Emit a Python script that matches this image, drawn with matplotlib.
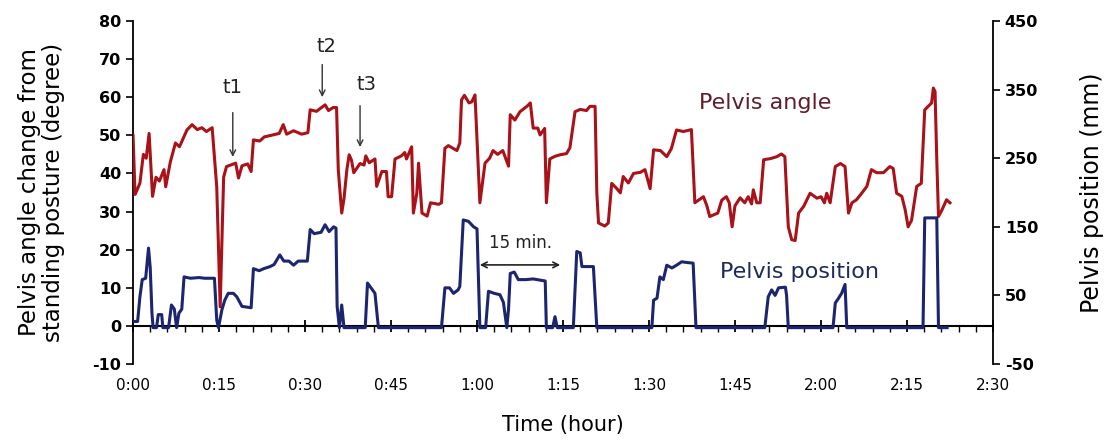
from matplotlib import pyplot as plt
from matplotlib.ticker import MultipleLocator, FuncFormatter
import numpy as np

plt.rcParams['axes.unicode_minus'] = False

# time in minutes, pelvis angle in degrees (left axis)
angle_t = [0, 0.35, 0.8, 1.2, 1.8, 2.3, 2.8, 3.4, 4.0, 4.6, 5.4, 5.7, 6.5, 7.4, 8.1, 9.4,
           10.3, 11.2, 12.0, 12.8, 13.8, 14.6, 15.2, 15.8, 16.3, 17.9, 18.4, 19.0, 20.0,
           20.6, 21.0, 22.1, 22.9, 24.1, 25.5, 26.2, 26.8, 28.0, 29.4, 30.5, 30.9, 32.0,
           33.5, 34.1, 34.9, 35.5, 35.8, 36.4, 36.8, 37.3, 37.7, 38.1, 38.5, 39.6, 40.3,
           40.6, 41.2, 42.2, 42.5, 43.4, 44.2, 44.5, 45.1, 45.7, 46.8, 47.4, 47.7, 48.6,
           48.9, 49.5, 49.8, 50.4, 51.3, 51.9, 53.3, 53.8, 54.4, 55.0, 56.5, 57.0, 57.3,
           57.8, 58.6, 59.1, 59.65, 60.5, 61.4, 62.2, 62.8, 63.6, 64.5, 65.5, 65.8, 66.6,
           67.5, 68.7, 69.3, 69.8, 70.6, 71.0, 71.8, 72.1, 72.7, 73.6, 74.5, 75.6, 76.2,
           77.1, 78.0, 79.1, 79.7, 80.6, 80.9, 81.2, 82.3, 82.9, 83.5, 84.4, 85.0, 85.5,
           86.4, 87.3, 88.5, 89.3, 90.2, 90.8, 92.0, 93.1, 93.9, 94.8, 96.0, 97.4, 98.0,
           99.5, 100.1, 100.6, 102.0, 102.7, 103.5, 104.0, 104.5, 105.0, 105.9, 106.7,
           107.3, 107.9, 108.2, 108.8, 109.4, 110.0, 111.2, 112.3, 113.1, 113.7, 114.3,
           114.9, 115.5, 116.1, 117.0, 118.1, 119.3, 120.0, 120.6, 121.0, 121.6, 122.5,
           123.4, 124.2, 124.8, 125.4, 126.2, 127.1, 128.0, 128.8, 129.7, 130.9, 132.0,
           132.6, 133.2, 134.1, 134.7, 135.2, 135.8, 136.7, 137.5, 138.1, 138.7, 139.3,
           139.6, 139.9, 140.2, 140.5, 141.1, 141.9, 142.5]
angle = [50, 34.5, 36, 37.5, 45, 44, 50.5, 34, 39, 38, 41, 36.5, 43, 48, 47, 51.4,
         52.8, 51.5, 52, 51, 52, 36.5, 5, 39, 41.8, 42.7, 38.8, 42, 42.5,
         40.5, 48.8, 48.5, 49.6, 50, 50.5, 52.8, 50.3, 51.2, 50.3, 50.7, 56.7, 56.3,
         58, 56.5, 57.3, 57.3, 41, 29.6, 33.4, 41, 44.9, 43.5, 40.2, 42.6, 42.2,
         44.6, 42.8, 43.8, 36.6, 40.5, 40.5, 33.9, 33.9, 43.8, 44.6, 45.5, 43.8, 47,
         29.6, 34.8, 42.7, 29.6, 28.8, 32.3, 31.9, 32.3, 46.6, 47.3, 46, 48, 59.3,
         60.5, 58.5, 58.8, 60.6, 32.3, 42.7, 44.0, 46, 45, 46, 41.9, 55.4, 54,
         56.2, 57.6, 58.5, 51.9, 51.9, 50.1, 51.8, 32.3, 43.8, 44.5, 44.9, 45.2, 46.7,
         56.2, 56.8, 56.5, 57.6, 57.6, 34.9, 27, 26.2, 27, 37.4, 36, 34.9, 39.2,
         37.5, 40, 40.3, 41, 36, 46.2, 46, 44.4, 46.5, 51.4, 51, 51.5, 32.3,
         33.9, 31.5, 28.7, 29.6, 33, 33.9, 32.3, 26, 31.5, 33.6, 32.3,
         33.9, 32, 35.7, 32.3, 32.3, 43.6, 43.9, 44.4, 45.1, 44.4, 26,
         22.6, 22.4, 29.6, 31.4, 34.8, 33.5, 33.9, 32.3, 34.8, 32.3, 41.8,
         42.6, 41.8, 29.6, 32.3, 33.1, 34.8, 36.6, 41, 40.2, 40.2, 41.8,
         41.3, 34.8, 34.0, 30.4, 26, 27.7, 36.6, 37.4, 56.7, 57.6, 58.5,
         62.4, 61.5, 43.6, 28.7, 30.4, 33.1, 32.3]

# time in minutes, pelvis position in mm (right axis)
pos_t = [0, 0.8, 1.2, 1.6, 2.2, 2.7, 3.0, 3.3, 3.5, 4.1, 4.4, 5.0, 5.2, 6.2, 6.7, 7.2,
         7.6, 8.0, 8.5, 8.9, 10, 11.5, 12.5, 14.2, 14.6, 14.9, 15.5, 16.0, 16.6, 17.5,
         18.1, 19.0, 20.6, 21.0, 22, 22.8, 23.9, 24.6, 25.6, 26.3, 27.2, 28.0, 28.8,
         30.4, 30.9, 31.6, 32.8, 33.5, 34.2, 35.0, 35.4, 35.6, 36.0, 36.4, 36.8, 40.5,
         40.9, 41.6, 42.2, 42.8, 53.8, 54.4, 55.2, 55.9, 56.7, 57.0, 57.6, 58.5, 59.4,
         60.0, 60.5, 61.5, 62.0, 63.0, 64.0, 64.6, 65.2, 65.5, 65.8, 66.5, 67.2, 68.5,
         69.8, 71.9, 72.1, 73.2, 73.6, 74.0, 76.8, 77.4, 78.0, 78.3, 80.3, 80.9, 90.5,
         90.8, 91.4, 91.9, 92.5, 93.1, 94.0, 94.8, 95.7, 96.6, 97.7, 98.2, 110.2, 110.8,
         111.4, 112.0, 112.6, 113.8, 114.0, 114.3, 122.1, 122.5, 123.0, 123.6, 124.2,
         124.5, 137.8, 138.1, 140.2, 140.5, 142.0]
pos = [12, 12, 48, 73, 75, 119, 90, 24, 3, 3, 22, 22, 3, 3, 36, 30,
       3, 24, 30, 77, 75, 76, 75, 75, 14, 3, 29, 43, 53, 53,
       48, 34, 32, 89, 86, 89, 92, 95, 109, 100, 100, 94, 100,
       100, 146, 140, 142, 153, 143, 150, 148, 34, 3, 36, 3, 3,
       68, 60, 53, 3, 3, 61, 61, 53, 58, 63, 160, 158, 150,
       147, 3, 3, 56, 53, 51, 40, 3, 30, 82, 84, 73, 73,
       74, 71, 3, 3, 19, 3, 3, 114, 112, 92, 92, 3, 3,
       43, 46, 77, 73, 94, 90, 94, 99, 98, 97, 3, 3, 48,
       58, 50, 61, 62, 50, 3, 3, 39, 45, 53, 66,
       3, 3, 163, 163, 3, 3]

x_ticks = np.arange(0, 151, 15)


def fmt_time(m, _):
    m = int(round(m))
    return '%d:%02d' % (m // 60, m % 60)


fig = plt.figure(figsize=(11.05, 4.41), dpi=100)
ax = fig.add_axes([0.1204, 0.1746, 0.7782, 0.7778])
ax2 = ax.twinx()

ax.plot(angle_t, angle, color='#a81218', linewidth=2.2, zorder=3)
ax2.plot(pos_t, pos, color='#1c2570', linewidth=2.2, zorder=3)

ax.set_xlim(0, 150)
ax.set_ylim(-10, 80)
ax2.set_ylim(-50, 450)

ax.set_yticks(np.arange(-10, 81, 10))
ax2.set_yticks(np.arange(-50, 451, 100))
ax.set_xticks(x_ticks)
ax.xaxis.set_minor_locator(MultipleLocator(3))
ax.xaxis.set_major_formatter(FuncFormatter(fmt_time))

for s in ['top', 'right']:
    ax.spines[s].set_visible(False)
for s in ['top', 'left', 'bottom']:
    ax2.spines[s].set_visible(False)
ax.spines['bottom'].set_position(('data', 0))
ax.spines['bottom'].set_linewidth(1.5)
ax.spines['left'].set_linewidth(1.3)
ax2.spines['right'].set_linewidth(1.3)

ax.tick_params(axis='x', which='major', direction='inout', length=9, width=1.3,
               pad=33, labelsize=11)
ax.tick_params(axis='x', which='minor', direction='out', length=4, width=1)
ax.tick_params(axis='y', direction='out', length=5, width=1.2, labelsize=11.5)
ax2.tick_params(axis='y', direction='out', length=5, width=1.2, labelsize=11.5)
for lab in ax.get_yticklabels() + ax2.get_yticklabels():
    lab.set_fontweight('bold')

ax.set_ylabel('Pelvis angle change from\nstanding posture (degree)', fontsize=16.5,
              labelpad=20, linespacing=1.05)
ax2.set_ylabel('Pelvis position (mm)', fontsize=17, labelpad=30)
ax.set_xlabel('Time (hour)', fontsize=15)
ax.xaxis.set_label_coords(0.5, -0.15)

arrow = dict(arrowstyle='->', color='#333333', lw=1.0)
ax.annotate('', xy=(17.4, 43.6), xytext=(17.4, 56.7), arrowprops=arrow)
ax.text(17.3, 62.5, 't1', fontsize=14, ha='center', va='center', color='#222222')
ax.annotate('', xy=(33.0, 59.3), xytext=(33.0, 69.3), arrowprops=arrow)
ax.text(33.8, 73.2, 't2', fontsize=14, ha='center', va='center', color='#222222')
ax.annotate('', xy=(39.6, 46.2), xytext=(39.6, 58.5), arrowprops=arrow)
ax.text(40.8, 63.3, 't3', fontsize=14, ha='center', va='center', color='#222222')

ax.annotate('', xy=(60, 16), xytext=(75, 16),
            arrowprops=dict(arrowstyle='<->', color='#222222', lw=1.2))
ax.text(67.5, 21.8, '15 min.', fontsize=12, ha='center', va='center', color='#222222')

ax.text(110.2, 58.5, 'Pelvis angle', fontsize=16, ha='center', va='center',
        color='#5e1f2c')
ax.text(116.3, 14.2, 'Pelvis position', fontsize=16, ha='center', va='center',
        color='#1f2a5c')

fig.savefig('out.png', dpi=100)
